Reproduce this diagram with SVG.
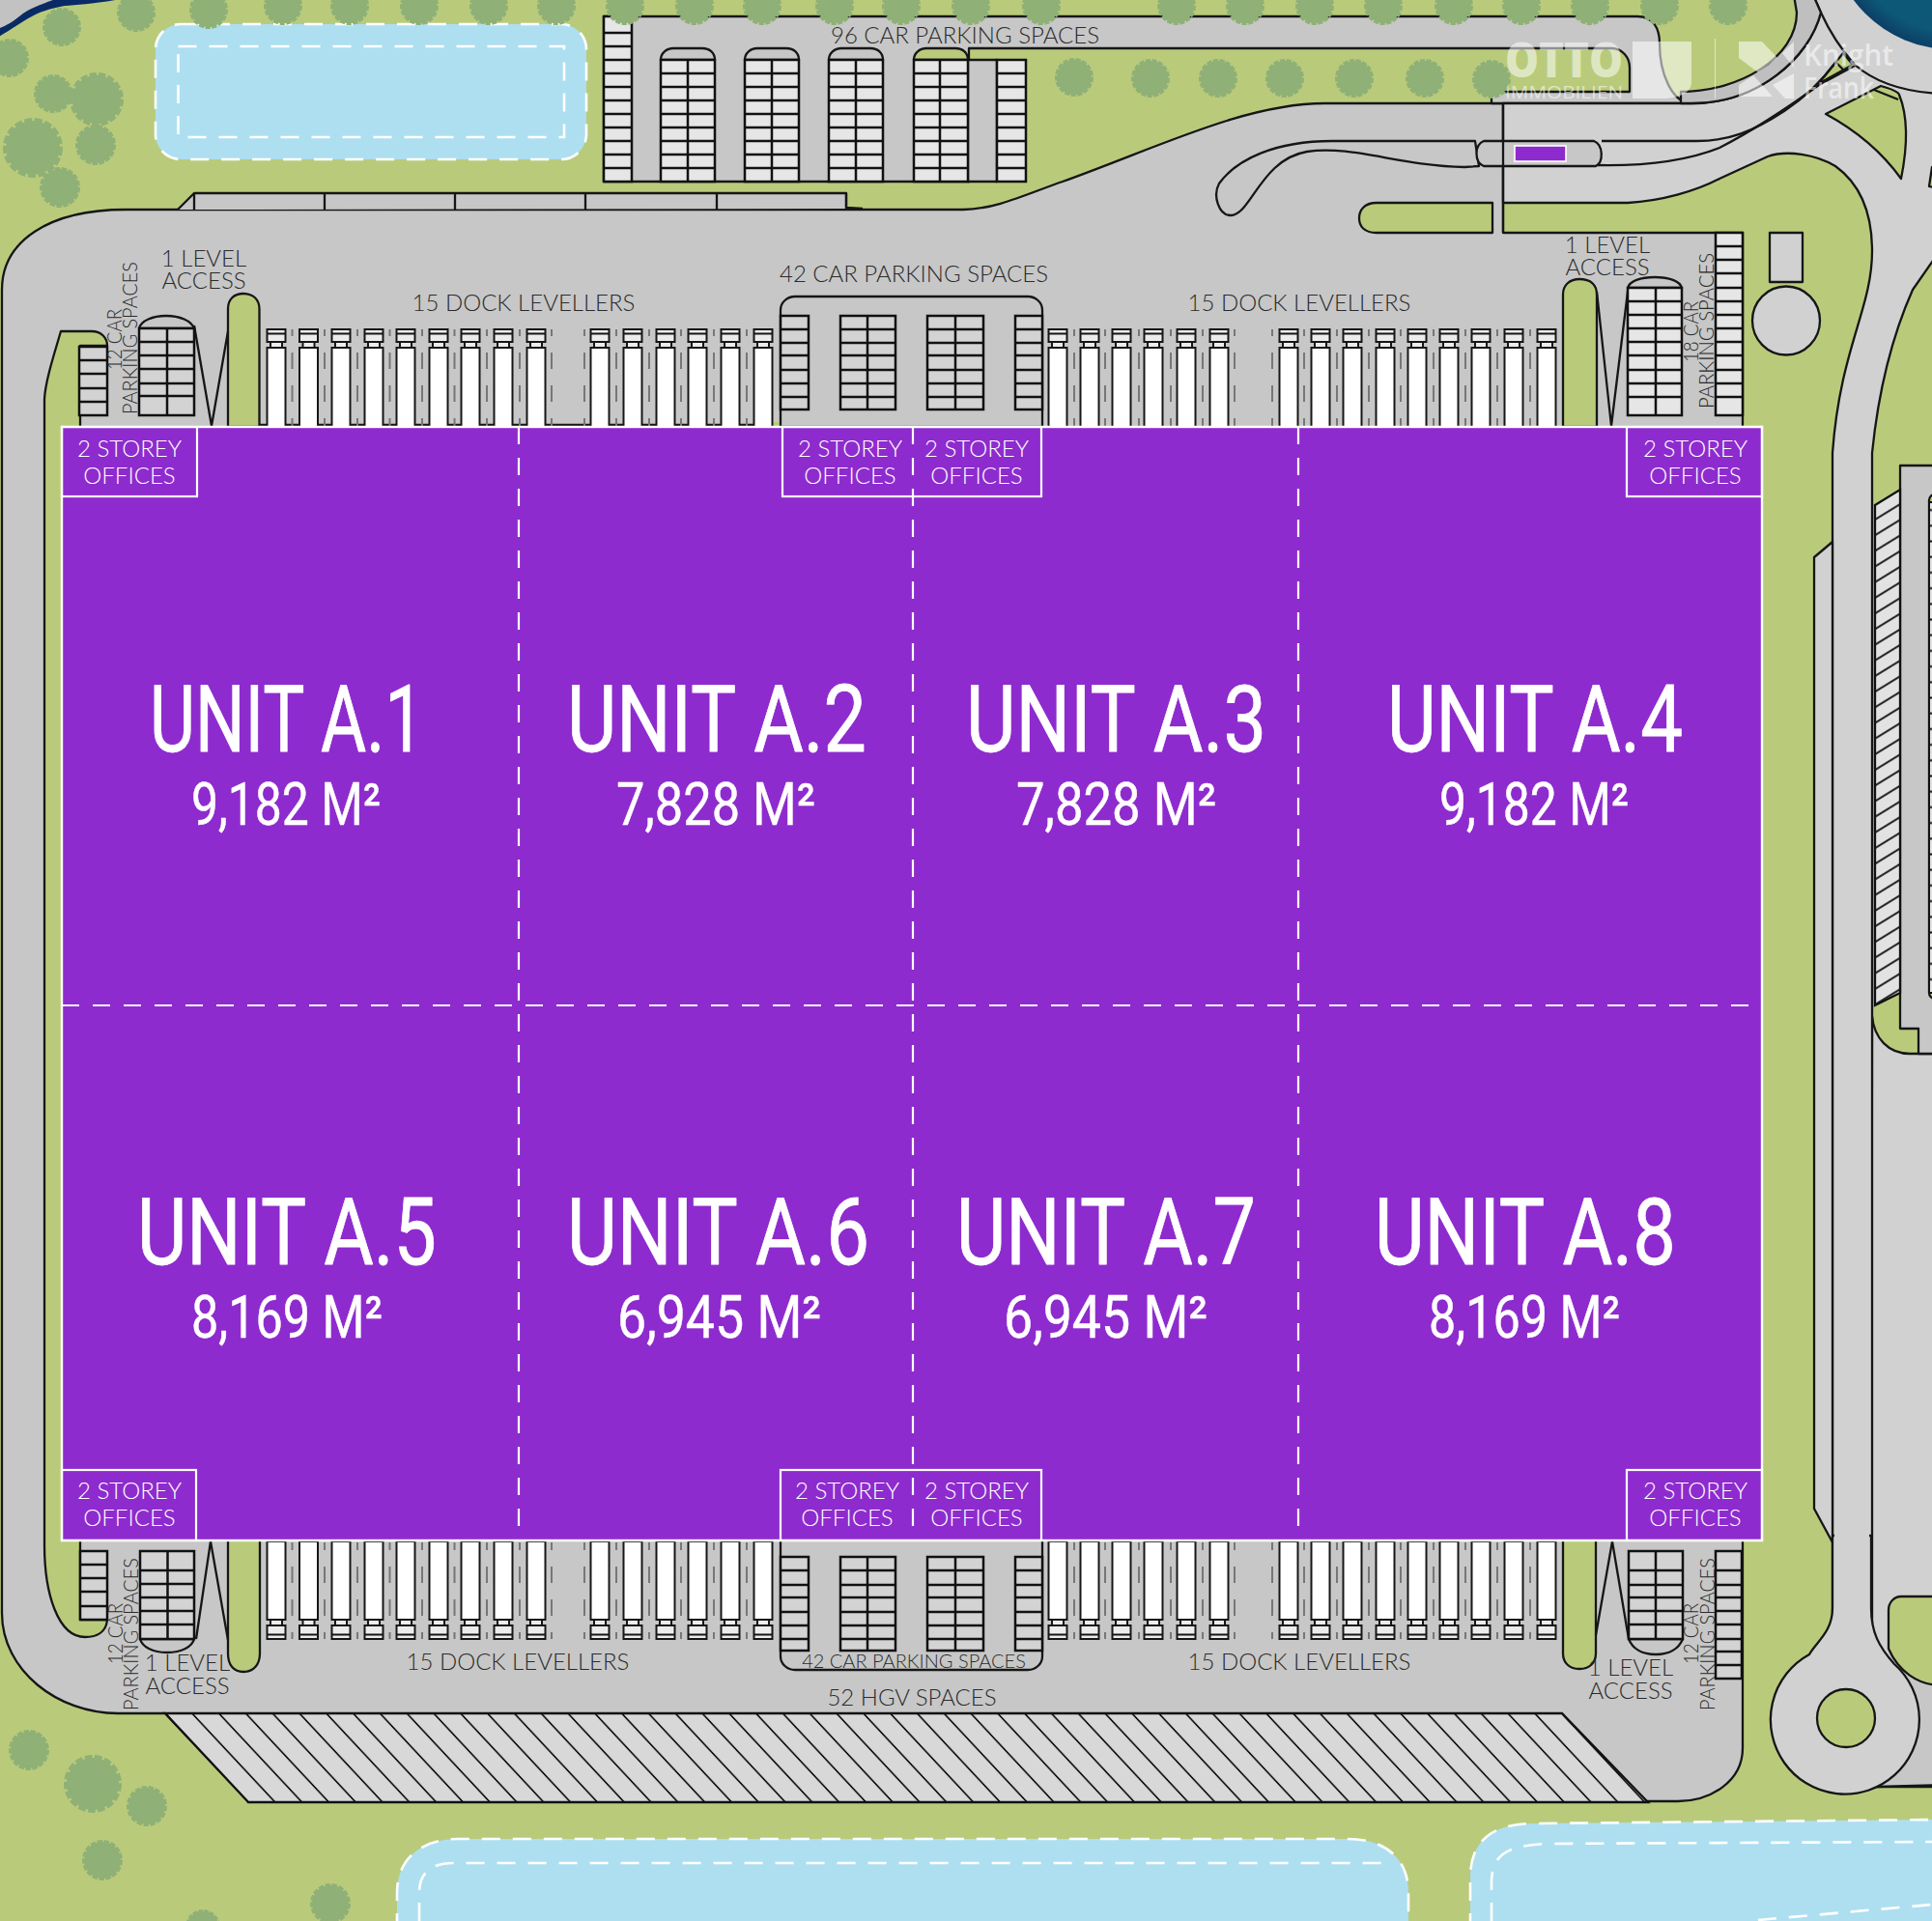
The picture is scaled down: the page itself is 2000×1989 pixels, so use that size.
<svg xmlns="http://www.w3.org/2000/svg" width="2000" height="1989" viewBox="0 0 2000 1989">
<style>
.s{stroke:#161616;stroke-width:2.3;stroke-linejoin:round}
.y{fill:#c7c7c7}.lg{fill:#d1d1d1}.g{fill:#b9cb7b}.n{fill:none}
.c1{fill:#e6e6e6;stroke:#111;stroke-width:2.5}
.c2{fill:#d3d3d3;stroke:#111;stroke-width:2.5}
.w{fill:#aedff0}
.wd{fill:none;stroke:#fff;stroke-width:2.6;stroke-dasharray:19 13}
.td{fill:none;stroke:#777;stroke-width:2;stroke-dasharray:17 17}
.div{fill:none;stroke:#fff;stroke-width:2.2;stroke-dasharray:18 14}
.off{fill:none;stroke:#fff;stroke-width:2.2}
.l{font-family:Lato,"Open Sans",sans-serif;font-weight:300;font-size:24px;fill:#2b2b2b;text-anchor:middle}
.r{font-family:Lato,"Open Sans",sans-serif;font-weight:300;font-size:22px;fill:#2b2b2b}
.o{font-family:Lato,"Open Sans",sans-serif;font-weight:300;font-size:24px;fill:#fff;text-anchor:middle}
.u{font-family:Roboto,"Open Sans",sans-serif;font-weight:400;font-size:96px;fill:#fff;stroke:#fff;stroke-width:.8;stroke-linejoin:round}
.a{font-family:Roboto,"Open Sans",sans-serif;font-weight:400;font-size:61px;fill:#fff;stroke:#fff;stroke-width:.5;stroke-linejoin:round}
.lo{fill:#fff;fill-opacity:.55}
.lt{font-family:"Open Sans",sans-serif;fill:#fff;fill-opacity:.55}
</style>
<defs>
<g id="tree"><circle r="18" fill="#8fb076" stroke="#8fb076" stroke-width="4" stroke-dasharray="5 1.6"/></g>
<g id="tt"><rect x="-9.5" y="341" width="19" height="13" fill="#ececec" stroke="#161616" stroke-width="2"/><path d="M-9.5,345.5H9.5" stroke="#161616" stroke-width="2"/><rect x="-6" y="354" width="12" height="6" fill="#ececec" stroke="#161616" stroke-width="2"/><rect x="-9.5" y="360" width="19" height="82" fill="#fff" stroke="#161616" stroke-width="2"/></g>
<g id="tb"><rect x="-9.5" y="1596" width="19" height="81" fill="#fff" stroke="#161616" stroke-width="2"/><rect x="-6" y="1677" width="12" height="6" fill="#ececec" stroke="#161616" stroke-width="2"/><rect x="-9.5" y="1683" width="19" height="14" fill="#ececec" stroke="#161616" stroke-width="2"/><path d="M-9.5,1692.5H9.5" stroke="#161616" stroke-width="2"/></g>
<pattern id="hgv" patternUnits="userSpaceOnUse" width="27.8" height="92" patternTransform="translate(157.1,1774) skewX(43.07)"><rect width="27.8" height="92" fill="#d8d8d8"/><path d="M13.9,0V92" stroke="#111" stroke-width="2.3"/></pattern>
<pattern id="east" patternUnits="userSpaceOnUse" width="26" height="16.2" patternTransform="translate(1941,529.9) skewY(-31.6)"><rect width="26" height="16.2" fill="#e2e2e2"/><path d="M0,8.1H26" stroke="#111" stroke-width="2.2"/></pattern>
<pattern id="rows" patternUnits="userSpaceOnUse" width="20" height="16.2" y="520"><rect width="20" height="16.2" fill="#e2e2e2"/><path d="M0,8.1H20" stroke="#111" stroke-width="2"/></pattern>
<radialGradient id="lake" gradientUnits="userSpaceOnUse" cx="2020" cy="-75" r="126"><stop offset=".85" stop-color="#0d5877"/><stop offset="1" stop-color="#0c3f66"/></radialGradient>
</defs>

<rect id="ground" width="2000" height="1989" class="g"/>

<g id="water">
<rect class="w" x="161" y="25" width="446" height="140" rx="26"/>
<rect class="wd" x="161" y="25" width="446" height="140" rx="26"/>
<rect class="wd" x="184.5" y="48" width="399.5" height="94"/>
<path class="w" d="M411,2000V1960C411,1925 435,1904 475,1904H1395C1435,1904 1458,1925 1458,1960V2000Z"/>
<path class="wd" d="M411,2000V1960C411,1925 435,1904 475,1904H1395C1435,1904 1458,1925 1458,1960V2000"/>
<path class="wd" d="M434,1989V1960C434,1940 445,1929 470,1929H1435"/>
<path class="w" d="M1522,2000V1945C1522,1905 1545,1888 1590,1888L2010,1884V2000Z"/>
<path class="wd" d="M1522,2000V1945C1522,1905 1545,1888 1590,1888L2010,1884"/>
<path class="wd" d="M1544,1989V1950C1544,1920 1560,1911 1600,1909L2000,1907"/>
<path class="wd" d="M1820,1988L2000,1972"/>
</g>

<g id="nw-road">
<path d="M-5,-5H70C50,2 30,8 20,17C10,25 3,28 -5,32Z" fill="#c2c2c2"/>
<path d="M-5,31C3,28 10,25 20,17C30,8 45,4 60,-2H130C100,4 80,5 67,6C50,9 40,13 33,17C20,24 10,32 -5,40Z" fill="#0a2a66"/>
</g>

<g id="yard">
<path class="y s" d="M2,1670V300C2,250 50,217 130,217H997C1030,217 1065,200 1100,188C1200,152 1290,107 1371,107H1556V241H1804V1810C1804,1845 1770,1865 1737,1865H257L171,1774H122C60,1774 2,1730 2,1670Z"/>
<path id="hgv-spaces" d="M171,1774H1617L1706,1866H257Z" fill="url(#hgv)" stroke="#111" stroke-width="2.3"/>
<path class="y s" d="M184,217L201,200H876V215L893,216"/>
<path class="n s" stroke-width="2.6" d="M201,200V217M336,200V217M471,200V217M606,200V217M742,200V217M876,200V217"/>
<path class="y s" d="M625,17H1695C1712,17 1718,30 1718,45C1718,75 1730,106 1751,107H1544V95H1687V70C1687,60 1680,50 1668,50H1003V188H625Z"/>
<rect class="y s" x="1002" y="62" width="30" height="126"/>
</g>

<g id="east-roads">
<path class="lg s" d="M1938,1052C1940,1075 1955,1091 1977,1091H2010V1850H1937Z"/>
<path class="y" d="M1955,1707C1960,1725 1985,1745 2010,1745V1848L1943,1850Z"/>
<path class="g s" d="M2010,1653H1968C1960,1653 1955,1660 1955,1667V1707C1965,1730 1985,1745 2010,1745Z"/>
<path class="n s" d="M1943,1850L2010,1848"/>
<path class="lg s" d="M1556,107H1751C1820,107 1873,60 1885,13L1877,-5H2010V257L1980,300C1960,345 1945,400 1938,469V1720H1897V469C1905,360 1938,320 1938,260C1938,220 1925,190 1900,172C1880,160 1850,155 1830,162L1780,185C1755,198 1720,208 1685,210H1556Z"/>
<path fill="#bfbfbf" class="s" d="M1740,95C1800,95 1860,60 1860,13L1857,-5H1877L1885,13C1873,60 1820,107 1751,107H1740Z"/>
<path class="n s" d="M1885,13C1895,35 1905,50 1920,67C1935,80 1960,95 2010,97"/>
<circle cx="2020" cy="-75" r="126" fill="url(#lake)"/>
<path class="g s" d="M1890,118L1947,89C1958,92 1965,95 1966,98C1975,120 1975,150 1968,185C1950,160 1925,137 1890,118Z"/>
<path class="n s" d="M1940,93L1965,103"/>
<path class="g s" d="M1882,87L1908,55L1918,67Z"/>
<path class="n s" d="M1901,65L1908,72"/>
<path class="g s" d="M2000,173L1997,193L2010,196V170Z"/>
<path class="y s" d="M1967,482H2010V1091H1986V1065H1967Z"/>
<path d="M1941,523L1967,507V1028L1941,1041Z" fill="url(#east)" stroke="#111" stroke-width="2.3"/>
<rect x="1997" y="512" width="20" height="522" rx="6" class="g s"/>
<rect x="1997" y="520" width="20" height="508" fill="url(#rows)" stroke="#111" stroke-width="2"/>
<path class="lg s" d="M1878,577L1897,561V1597L1878,1562Z"/>
<path id="roundabout" class="lg s" d="M1897,1590V1665C1897,1690 1880,1700 1873,1713A77,77 0 1 0 1961,1723C1945,1705 1937,1690 1937,1665V1590Z"/>
<path class="lg" d="M1899,1580H1935V1680H1899Z"/>
<circle class="g s" cx="1911" cy="1779" r="30"/>
<rect class="lg s" x="1832" y="241" width="34" height="51"/>
<ellipse class="lg s" cx="1849" cy="332" rx="35" ry="35.5"/>
<path class="n s" d="M1658,146H1756C1790,146 1815,136 1847,115C1865,103 1885,85 1900,65"/>
<path class="n s" d="M1654,171C1710,172 1750,165 1780,153C1815,135 1850,112 1883,88L1920,68"/>
</g>

<g id="gatehouse">
<path class="y s" d="M1527,146H1379C1320,146 1280,165 1262,190C1255,203 1262,223 1274,223C1295,223 1305,165 1353,157C1400,150 1450,172 1516,173L1531,172Z"/>
<path class="g s" d="M1545,210H1425C1412,210 1407,218 1407,226C1407,234 1412,241 1425,241H1545Z"/>
<path class="y s" d="M1536,146H1650C1660,150 1660,168 1652,172H1536C1526,168 1526,150 1536,146Z"/>
<path class="n s" d="M1556,107V241"/>
<rect x="1568" y="151" width="53" height="16" fill="#8e2bce" stroke="#fff" stroke-width="1.6"/>
</g>

<g id="green-west">
<path class="g s" d="M46,1600V413C47,395 55,370 63,343H95C105,343 111,350 111,358H83V1677H111C110,1690 100,1695 88,1695C60,1695 46,1650 46,1600Z"/>
<path class="g s" d="M236,442V320C236,310 242,304 252,304C262,304 268.500,310 268.500,320V442Z"/>
<path class="g s" d="M236,1590V1712C236,1724 242,1731 252,1731C262,1731 269,1724 269,1712V1590Z"/>
<path class="g s" d="M1618,442V305C1618,295 1625,289 1635,289C1647,289 1653,295 1653,305V442Z"/>
<path class="g s" d="M1618,1590V1712C1618,1722 1625,1728 1635,1728C1645,1728 1652,1722 1652,1712V1590Z"/>
<path class="n s" d="M201,337L219,441L236,343M203,1697L218,1596L236,1698M1653,302L1668,441L1685,302M1652,1693L1669,1596L1686,1697"/>
<rect x="800" y="437" width="9" height="5" fill="#b9cb7b"/>
<path class="n s" d="M269,440H800"/>
</g>

<g id="parking-north">
<path class="c1" d="M625,17H654V188H625ZM625,34H654M625,48H654M625,62H654M625,76H654M625,90H654M625,104H654M625,118H654M625,132H654M625,146H654M625,160H654M625,174H654"/>
<path class="y s" d="M684,62V62C684,55 690,50 697,50H727C735,50 740,55 740,62Z"/>
<path class="y s" d="M771,62C771,55 777,50 784,50H814C822,50 827,55 827,62Z"/>
<path class="y s" d="M858,62C858,55 864,50 871,50H901C909,50 914,55 914,62Z"/>
<path class="g s" d="M946,62C946,55 952,50 959,50H989C997,50 1002,55 1002,62Z"/>
<path class="c1" d="M684,62H740V188H684ZM712,62V188M684,76H740M684,90H740M684,104H740M684,118H740M684,132H740M684,146H740M684,160H740M684,174H740"/>
<path class="c1" d="M771,62H827V188H771ZM799,62V188M771,76H827M771,90H827M771,104H827M771,118H827M771,132H827M771,146H827M771,160H827M771,174H827"/>
<path class="c1" d="M858,62H914V188H858ZM886,62V188M858,76H914M858,90H914M858,104H914M858,118H914M858,132H914M858,146H914M858,160H914M858,174H914"/>
<path class="c1" d="M946,62H1002V188H946ZM973,62V188M946,76H1002M946,90H1002M946,104H1002M946,118H1002M946,132H1002M946,146H1002M946,160H1002M946,174H1002"/>
<path class="c1" d="M1032,62H1062V188H1032ZM1032,76H1062M1032,90H1062M1032,104H1062M1032,118H1062M1032,132H1062M1032,146H1062M1032,160H1062M1032,174H1062"/>
</g>

<g id="parking-corners">
<path class="c2" d="M82,359H111V430H82ZM82,373H111M82,387H111M82,402H111M82,416H111"/>
<path class="y s" d="M144,340C146,332 158,327 172,327C186,327 198,332 201,340Z"/>
<path class="c2" d="M144,340H201V430H144ZM173,340V430M144,354H201M144,368H201M144,382H201M144,397H201M144,410H201"/>
<path class="c2" d="M83,1606H111V1677H83ZM83,1620H111M83,1634H111M83,1648H111M83,1663H111"/>
<path class="y s" d="M145,1697C147,1705 158,1711 173,1711C188,1711 199,1705 201,1697Z"/>
<path class="c2" d="M145,1606H201V1697H145ZM173.500,1606V1697M145,1626H201M145,1640H201M145,1654H201M145,1668H201M145,1682H201"/>
<path class="y s" d="M1685,298C1687,291 1698,287 1713,287C1728,287 1739,291 1741,298Z"/>
<path class="c1" d="M1685,298H1741V430H1685ZM1714,298V430M1685,312H1741M1685,326H1741M1685,340H1741M1685,354H1741M1685,368H1741M1685,383H1741M1685,397H1741M1685,411H1741"/>
<path class="c1" d="M1776,241H1804V430H1776ZM1776,255H1804M1776,269H1804M1776,283H1804M1776,298H1804M1776,312H1804M1776,326H1804M1776,340H1804M1776,354H1804M1776,368H1804M1776,383H1804M1776,397H1804M1776,411H1804"/>
<path class="y s" d="M1686,1697C1690,1707 1700,1713 1714,1713C1728,1713 1738,1707 1742,1697Z"/>
<path class="c2" d="M1686,1606H1742V1697H1686ZM1714,1606V1697M1686,1626H1742M1686,1641H1742M1686,1654H1742M1686,1668H1742M1686,1682H1742"/>
<path class="c2" d="M1776,1606H1803V1738H1776ZM1776,1626H1803M1776,1641H1803M1776,1654H1803M1776,1668H1803M1776,1682H1803M1776,1697H1803M1776,1710H1803M1776,1724H1803"/>
</g>

<g id="parking-centre">
<path class="y s" d="M808,442V321C808,313 815,307 823,307H1064C1072,307 1079,313 1079,321V442Z"/>
<path class="c2" d="M808,327H837V424H808ZM808,341H837M808,355H837M808,368H837M808,383H837M808,397H837M808,411H837"/>
<path class="c2" d="M870,327H927V424H870ZM898,327V424M870,341H927M870,355H927M870,368H927M870,383H927M870,397H927M870,411H927"/>
<path class="c2" d="M960,327H1018V424H960ZM989,327V424M960,341H1018M960,355H1018M960,368H1018M960,383H1018M960,397H1018M960,411H1018"/>
<path class="c2" d="M1051,327H1079V424H1051ZM1051,341H1079M1051,355H1079M1051,368H1079M1051,383H1079M1051,397H1079M1051,411H1079"/>
<path class="y s" d="M808,1590V1715C808,1723 815,1729 823,1729H1064C1072,1729 1079,1723 1079,1715V1590Z"/>
<path class="c2" d="M808,1612H837V1709H808ZM808,1626H837M808,1641H837M808,1654H837M808,1669H837M808,1683H837M808,1697H837"/>
<path class="c2" d="M870,1612H927V1709H870ZM898,1612V1709M870,1626H927M870,1641H927M870,1654H927M870,1669H927M870,1683H927M870,1697H927"/>
<path class="c2" d="M960,1612H1018V1709H960ZM989,1612V1709M960,1626H1018M960,1641H1018M960,1654H1018M960,1669H1018M960,1683H1018M960,1697H1018"/>
<path class="c2" d="M1051,1612H1079V1709H1051ZM1051,1626H1079M1051,1641H1079M1051,1654H1079M1051,1669H1079M1051,1683H1079M1051,1697H1079"/>
</g>

<g id="dock-bays">
<path class="td" stroke-dashoffset="10" d="M302.500,341V441M336,341V441M370,341V441M403.500,341V441M437,341V441M470.500,341V441M504,341V441M538,341V441M571,341V441M605,341V441M638,341V441M672,341V441M705,341V441M739,341V441M773,341V441M1112,341V441M1144,341V441M1179,341V441M1212,341V441M1245,341V441M1278,341V441M1317,341V441M1350,341V441M1384,341V441M1417,341V441M1450,341V441M1484,341V441M1517,341V441M1550,341V441M1584,341V441"/>
<path class="td" stroke-dashoffset="10" d="M302.500,1697V1597M336,1697V1597M370,1697V1597M403.500,1697V1597M437,1697V1597M470.500,1697V1597M504,1697V1597M538,1697V1597M571,1697V1597M605,1697V1597M638,1697V1597M672,1697V1597M705,1697V1597M739,1697V1597M773,1697V1597M1112,1697V1597M1144,1697V1597M1179,1697V1597M1212,1697V1597M1245,1697V1597M1278,1697V1597M1317,1697V1597M1350,1697V1597M1384,1697V1597M1417,1697V1597M1450,1697V1597M1484,1697V1597M1517,1697V1597M1550,1697V1597M1584,1697V1597"/>
<use href="#tt" x="286"/><use href="#tt" x="319.500"/><use href="#tt" x="353"/><use href="#tt" x="387"/><use href="#tt" x="420"/><use href="#tt" x="454"/><use href="#tt" x="487"/><use href="#tt" x="521"/><use href="#tt" x="555"/>
<use href="#tt" x="621"/><use href="#tt" x="655"/><use href="#tt" x="689"/><use href="#tt" x="722"/><use href="#tt" x="756"/><use href="#tt" x="790"/>
<use href="#tt" x="1095"/><use href="#tt" x="1128"/><use href="#tt" x="1161"/><use href="#tt" x="1194"/><use href="#tt" x="1228"/><use href="#tt" x="1262"/>
<use href="#tt" x="1334"/><use href="#tt" x="1367"/><use href="#tt" x="1400"/><use href="#tt" x="1434"/><use href="#tt" x="1467"/><use href="#tt" x="1500"/><use href="#tt" x="1533"/><use href="#tt" x="1567"/><use href="#tt" x="1601"/>
<use href="#tb" x="286"/><use href="#tb" x="319.500"/><use href="#tb" x="353"/><use href="#tb" x="387"/><use href="#tb" x="420"/><use href="#tb" x="454"/><use href="#tb" x="487"/><use href="#tb" x="521"/><use href="#tb" x="555"/>
<use href="#tb" x="621"/><use href="#tb" x="655"/><use href="#tb" x="689"/><use href="#tb" x="722"/><use href="#tb" x="756"/><use href="#tb" x="790"/>
<use href="#tb" x="1095"/><use href="#tb" x="1128"/><use href="#tb" x="1161"/><use href="#tb" x="1194"/><use href="#tb" x="1228"/><use href="#tb" x="1262"/>
<use href="#tb" x="1334"/><use href="#tb" x="1367"/><use href="#tb" x="1400"/><use href="#tb" x="1434"/><use href="#tb" x="1467"/><use href="#tb" x="1500"/><use href="#tb" x="1533"/><use href="#tb" x="1567"/><use href="#tb" x="1601"/>
</g>

<g id="trees">
<use href="#tree" transform="translate(64,28)"/><use href="#tree" transform="translate(141,13)"/><use href="#tree" transform="translate(216,10)"/><use href="#tree" transform="translate(293,6)"/><use href="#tree" transform="translate(362,6)"/><use href="#tree" transform="translate(434,6)"/><use href="#tree" transform="translate(506,6)"/><use href="#tree" transform="translate(576,6)"/><use href="#tree" transform="translate(647,6)"/><use href="#tree" transform="translate(719,6)"/><use href="#tree" transform="translate(789,6)"/><use href="#tree" transform="translate(864,6)"/><use href="#tree" transform="translate(933,6)"/><use href="#tree" transform="translate(1005,6)"/><use href="#tree" transform="translate(1078,6)"/><use href="#tree" transform="translate(1218,6)"/><use href="#tree" transform="translate(1289,6)"/><use href="#tree" transform="translate(1361,6)"/><use href="#tree" transform="translate(1432,6)"/><use href="#tree" transform="translate(1505,6)"/><use href="#tree" transform="translate(1575,6)"/><use href="#tree" transform="translate(1646,6)"/><use href="#tree" transform="translate(1718,6)"/><use href="#tree" transform="translate(1789,6)"/>
<use href="#tree" transform="translate(1112,80)"/><use href="#tree" transform="translate(1191,81)"/><use href="#tree" transform="translate(1261,81)"/><use href="#tree" transform="translate(1330,81)"/><use href="#tree" transform="translate(1402,81)"/><use href="#tree" transform="translate(1475,81)"/><use href="#tree" transform="translate(1544,82)"/>
<use href="#tree" transform="translate(10,60)"/><use href="#tree" transform="translate(55,97)"/><use href="#tree" transform="translate(100,103) scale(1.4)"/><use href="#tree" transform="translate(99,150) scale(1.05)"/><use href="#tree" transform="translate(34,153) scale(1.55)"/><use href="#tree" transform="translate(62,194) scale(1.05)"/>
<use href="#tree" transform="translate(30,1812) scale(1.05)"/><use href="#tree" transform="translate(96,1847) scale(1.5)"/><use href="#tree" transform="translate(152,1870) scale(1.05)"/><use href="#tree" transform="translate(106,1926) scale(1.05)"/><use href="#tree" transform="translate(342,1971) scale(1.05)"/><use href="#tree" transform="translate(210,1995) scale(.9)"/>
</g>

<g id="logos">
<text class="lt" x="1558" y="80" font-size="50" font-weight="800" textLength="122" lengthAdjust="spacingAndGlyphs">OTTO</text>
<text class="lt" x="1558" y="102" font-size="19" textLength="122" lengthAdjust="spacingAndGlyphs">IMMOBILIEN</text>
<path class="lo" d="M1690,43H1751V85C1751,95 1740,102 1720,102H1690Z"/>
<path class="lo" d="M1775,40h1v62h-1z"/>
<path class="lo" d="M1800,43H1824L1840,60L1820,75L1800,60Z"/>
<path class="lo" d="M1845,55L1857,43V70Z"/>
<path class="lo" d="M1800,100V88L1815,78L1835,100Z"/>
<path class="lo" d="M1835,88L1857,76V102H1848Z"/>
<text class="lt" x="1867" y="68" font-size="31" font-weight="600" textLength="93" lengthAdjust="spacingAndGlyphs">Knight</text>
<text class="lt" x="1867" y="102" font-size="31" font-weight="600" textLength="73" lengthAdjust="spacingAndGlyphs">Frank</text>
</g>

<g id="building">
<rect x="64" y="442" width="1760" height="1153" fill="#8e2bce" stroke="#fff" stroke-width="2.4"/>
<path class="div" d="M537,442V1595M945,442V1595M1344,442V1595M64,1041H1824"/>
<g id="offices">
<rect class="off" x="64" y="442" width="140" height="72"/>
<rect class="off" x="810" y="442" width="268" height="72"/>
<rect class="off" x="1684" y="442" width="140" height="72"/>
<rect class="off" x="64" y="1522" width="139" height="73"/>
<rect class="off" x="808" y="1522" width="270" height="73"/>
<rect class="off" x="1684" y="1522" width="140" height="73"/>
<text class="o" x="134" y="473">2 STOREY</text><text class="o" x="134" y="501">OFFICES</text>
<text class="o" x="880" y="473">2 STOREY</text><text class="o" x="880" y="501">OFFICES</text>
<text class="o" x="1011" y="473">2 STOREY</text><text class="o" x="1011" y="501">OFFICES</text>
<text class="o" x="1755" y="473">2 STOREY</text><text class="o" x="1755" y="501">OFFICES</text>
<text class="o" x="134" y="1552">2 STOREY</text><text class="o" x="134" y="1580">OFFICES</text>
<text class="o" x="877" y="1552">2 STOREY</text><text class="o" x="877" y="1580">OFFICES</text>
<text class="o" x="1011" y="1552">2 STOREY</text><text class="o" x="1011" y="1580">OFFICES</text>
<text class="o" x="1755" y="1552">2 STOREY</text><text class="o" x="1755" y="1580">OFFICES</text>
</g>
<g id="unit-a1"><text class="u" x="155" y="778" textLength="284" lengthAdjust="spacingAndGlyphs">UNIT A.1</text><text class="a" x="198" y="854" textLength="196" lengthAdjust="spacingAndGlyphs">9,182 M²</text></g>
<g id="unit-a2"><text class="u" x="587" y="778" textLength="310" lengthAdjust="spacingAndGlyphs">UNIT A.2</text><text class="a" x="638" y="854" textLength="206" lengthAdjust="spacingAndGlyphs">7,828 M²</text></g>
<g id="unit-a3"><text class="u" x="1000" y="778" textLength="311" lengthAdjust="spacingAndGlyphs">UNIT A.3</text><text class="a" x="1052" y="854" textLength="207" lengthAdjust="spacingAndGlyphs">7,828 M²</text></g>
<g id="unit-a4"><text class="u" x="1436" y="778" textLength="306" lengthAdjust="spacingAndGlyphs">UNIT A.4</text><text class="a" x="1490" y="854" textLength="196" lengthAdjust="spacingAndGlyphs">9,182 M²</text></g>
<g id="unit-a5"><text class="u" x="142" y="1309" textLength="310" lengthAdjust="spacingAndGlyphs">UNIT A.5</text><text class="a" x="198" y="1385" textLength="198" lengthAdjust="spacingAndGlyphs">8,169 M²</text></g>
<g id="unit-a6"><text class="u" x="587" y="1309" textLength="313" lengthAdjust="spacingAndGlyphs">UNIT A.6</text><text class="a" x="639" y="1385" textLength="211" lengthAdjust="spacingAndGlyphs">6,945 M²</text></g>
<g id="unit-a7"><text class="u" x="990" y="1309" textLength="310" lengthAdjust="spacingAndGlyphs">UNIT A.7</text><text class="a" x="1039" y="1385" textLength="211" lengthAdjust="spacingAndGlyphs">6,945 M²</text></g>
<g id="unit-a8"><text class="u" x="1423" y="1309" textLength="312" lengthAdjust="spacingAndGlyphs">UNIT A.8</text><text class="a" x="1479" y="1385" textLength="198" lengthAdjust="spacingAndGlyphs">8,169 M²</text></g>
</g>

<g id="labels">
<text class="l" x="999" y="45">96 CAR PARKING SPACES</text>
<text class="l" x="946" y="292">42 CAR PARKING SPACES</text>
<text class="l" x="542" y="322">15 DOCK LEVELLERS</text>
<text class="l" x="1345" y="322">15 DOCK LEVELLERS</text>
<text class="l" x="211" y="276">1 LEVEL</text><text class="l" x="211" y="299">ACCESS</text>
<text class="l" x="1664" y="262">1 LEVEL</text><text class="l" x="1664" y="285">ACCESS</text>
<text class="r" transform="translate(126,383) rotate(-90)" textLength="63" lengthAdjust="spacingAndGlyphs">12 CAR</text><text class="r" transform="translate(142,429) rotate(-90)" textLength="158" lengthAdjust="spacingAndGlyphs">PARKING SPACES</text>
<text class="r" transform="translate(1758,375) rotate(-90)" textLength="63" lengthAdjust="spacingAndGlyphs">18 CAR</text><text class="r" transform="translate(1774,423) rotate(-90)" textLength="161" lengthAdjust="spacingAndGlyphs">PARKING SPACES</text>
<text class="l" x="194" y="1730">1 LEVEL</text><text class="l" x="194" y="1754">ACCESS</text>
<text class="l" x="1688" y="1735">1 LEVEL</text><text class="l" x="1688" y="1759">ACCESS</text>
<text class="r" transform="translate(127,1723) rotate(-90)" textLength="63" lengthAdjust="spacingAndGlyphs">12 CAR</text><text class="r" transform="translate(143,1771) rotate(-90)" textLength="158" lengthAdjust="spacingAndGlyphs">PARKING SPACES</text>
<text class="r" transform="translate(1758,1723) rotate(-90)" textLength="63" lengthAdjust="spacingAndGlyphs">12 CAR</text><text class="r" transform="translate(1775,1771) rotate(-90)" textLength="158" lengthAdjust="spacingAndGlyphs">PARKING SPACES</text>
<text class="l" x="536" y="1729">15 DOCK LEVELLERS</text>
<text class="l" x="1345" y="1729">15 DOCK LEVELLERS</text>
<text class="l" x="946" y="1727" style="font-size:20px">42 CAR PARKING SPACES</text>
<text class="l" x="944" y="1766">52 HGV SPACES</text>
</g>
</svg>
